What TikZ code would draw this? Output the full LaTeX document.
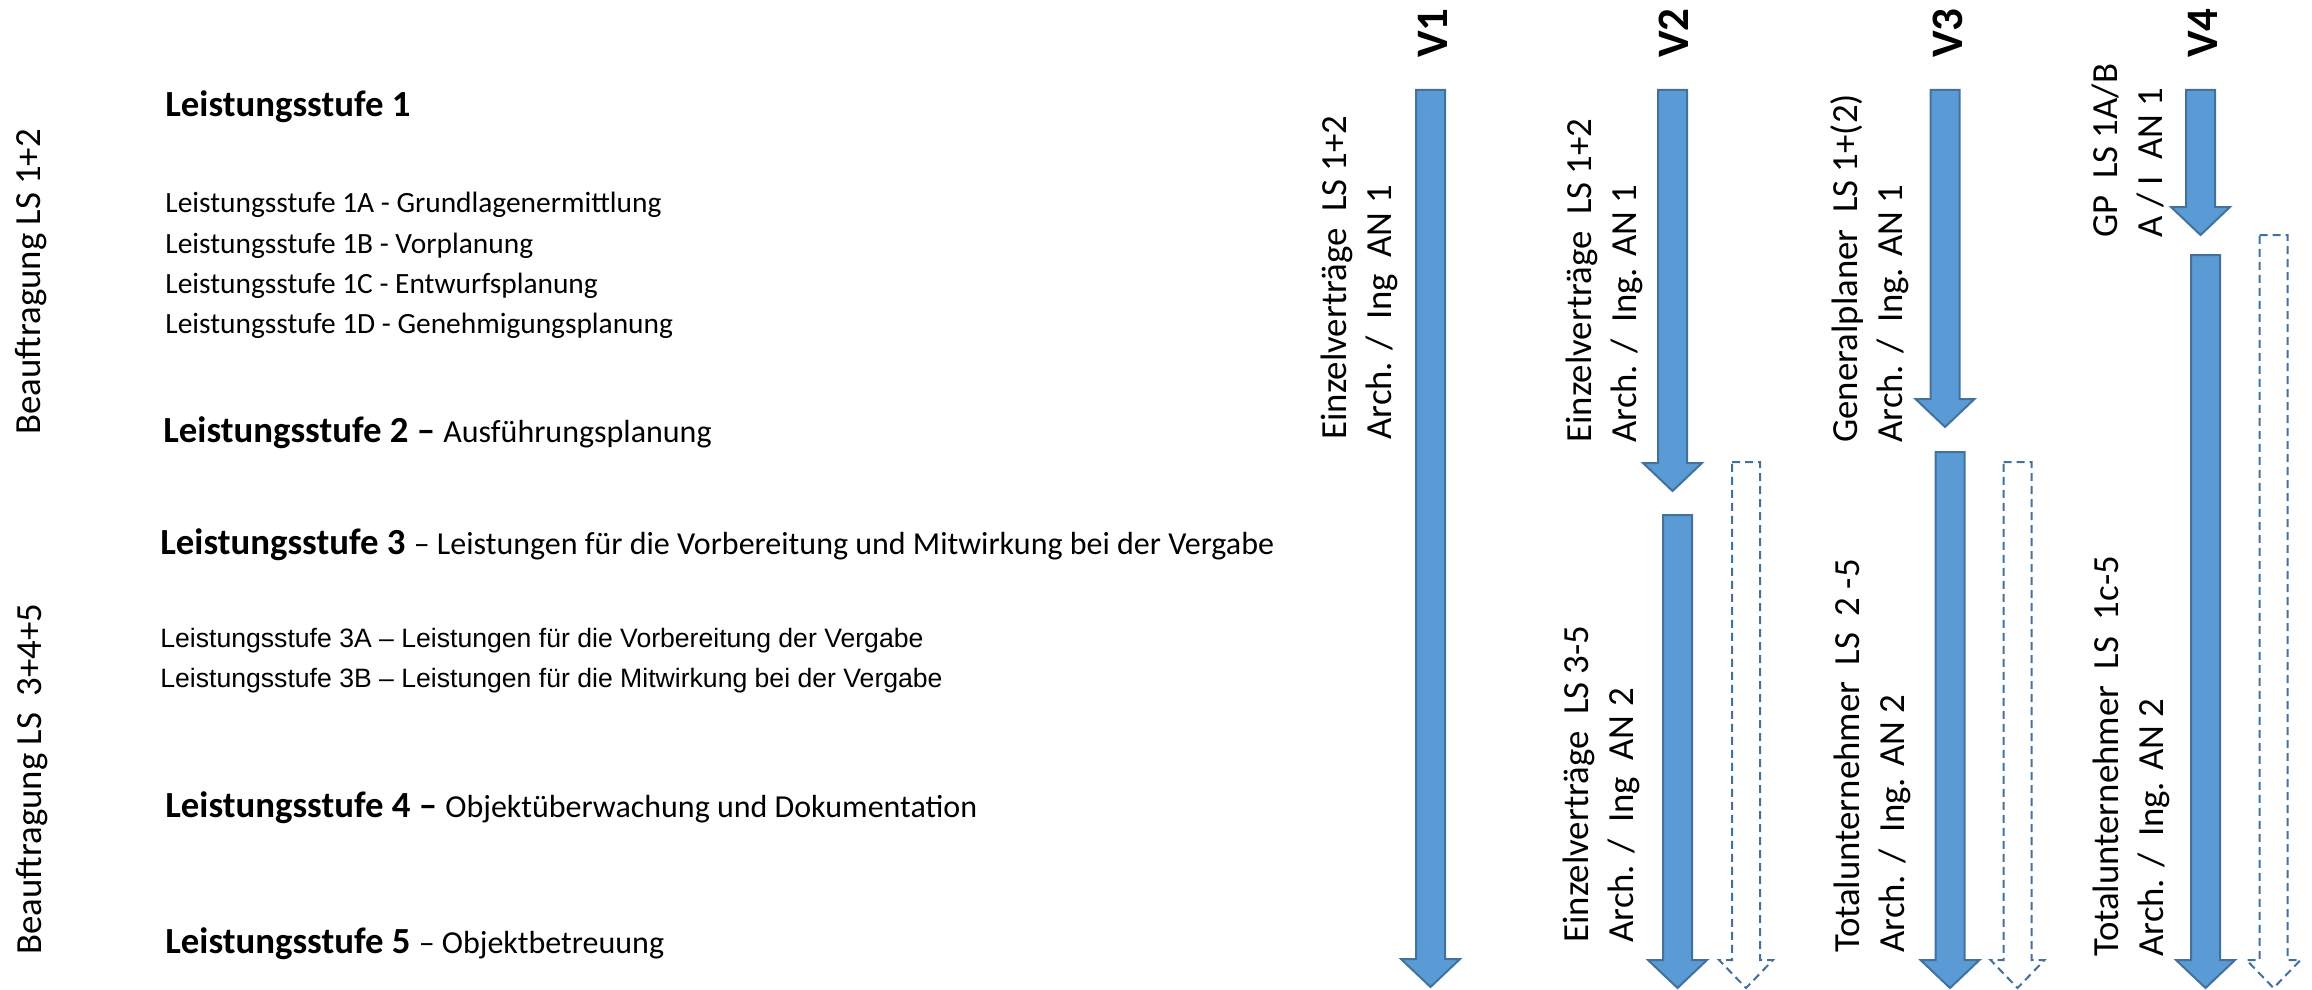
\documentclass[tikz,border=0pt]{standalone}
\usepackage{fontspec}
\setmainfont{Carlito}
\newfontfamily\arialfont{Liberation Sans}
\usetikzlibrary{positioning}
\definecolor{cFill}{HTML}{5B9BD5}
\definecolor{cEdge}{HTML}{41719C}
\tikzset{
  stage/.style={font=\fontsize{18.4}{22.5}\selectfont\bfseries, inner sep=0pt, anchor=base west},
  substage/.style={font=\fontsize{14.7}{17.5}\selectfont, inner sep=0pt, anchor=base west},
  substagear/.style={font=\arialfont\fontsize{13.3}{16}\selectfont, inner sep=0pt, anchor=base west},
  side/.style={font=\fontsize{18.4}{22.5}\selectfont, rotate=90, inner sep=0pt, anchor=base west},
  vlbl/.style={font=\fontsize{22.5}{27}\selectfont\bfseries, rotate=90, inner sep=0pt, anchor=base west},
  colt/.style={font=\fontsize{18.4}{22.5}\selectfont, rotate=90, align=left, inner sep=0pt, anchor=north west},
  full/.style={draw=cEdge, fill=cFill, line width=1pt},
  open/.style={draw=cEdge, line width=1pt, dash pattern=on 4pt off 2.5pt},
}
\newcommand{\desc}[1]{{\fontsize{16}{19}\selectfont\mdseries #1}}
% block arrow: style, centre x, top, tip, half shaft, half head
\newcommand{\blockarrow}[6]{%
  \draw[#1] (#2-#5,#3) -- (#2+#5,#3) -- (#2+#5,#4-28) -- (#2+#6,#4-28) -- (#2,#4)
    -- (#2-#6,#4-28) -- (#2-#5,#4-28) -- cycle;}

\begin{document}
\begin{tikzpicture}[x=0.5pt, y=-0.5pt]
  \useasboundingbox (0,0) rectangle (2312,990);

  % left column
  \node[side] (lbl12) at (40,435) {Beauftragung LS 1+2};
  \node[side] (lbl345) at (41,955) {Beauftragung LS~ 3+4+5};

  \node[stage] (ls1) at (165,117) {Leistungsstufe 1};
  \node[substage] (ls1a) at (165,213) {Leistungsstufe 1A - Grundlagenermittlung};
  \node[substage] (ls1b) at (165,253) {Leistungsstufe 1B - Vorplanung};
  \node[substage] (ls1c) at (165,293) {Leistungsstufe 1C - Entwurfsplanung};
  \node[substage] (ls1d) at (165,333) {Leistungsstufe 1D - Genehmigungsplanung};
  \node[stage] (ls2) at (163,442) {Leistungsstufe 2 – \desc{Ausführungsplanung}};
  \node[stage] (ls3) at (160,554) {Leistungsstufe 3 \desc{– Leistungen für die Vorbereitung und Mitwirkung bei der Vergabe}};
  \node[substagear] (ls3a) at (160,647) {Leistungsstufe 3A – Leistungen für die Vorbereitung der Vergabe};
  \node[substagear] (ls3b) at (160,687) {Leistungsstufe 3B – Leistungen für die Mitwirkung bei der Vergabe};
  \node[stage] (ls4) at (165,817) {Leistungsstufe 4 – \desc{Objektüberwachung und Dokumentation}};
  \node[stage] (ls5) at (165,953) {Leistungsstufe 5 \desc{– Objektbetreuung}};

  % variants
  \node[vlbl] (v1) at (1447,58) {V1};
  \node[vlbl] (v2) at (1688,58) {V2};
  \node[vlbl] (v3) at (1962,58) {V3};
  \node[vlbl] (v4) at (2217,58) {V4};

  \foreach \ax/\ay/\az in {1430.5/90/987, 1672.5/90/491, 1677.5/515/988,
                           1945/90/427, 1950/452/988, 2200.5/90/235, 2205.5/255/988}
    \blockarrow{full}{\ax}{\ay}{\az}{14.5}{29.5};
  \foreach \ax/\ay in {1746/462, 2017.5/462, 2273.5/235}
    \blockarrow{open}{\ax}{\ay}{988}{14}{27};

  \node[colt] (t1) at (1321,440) {Einzelverträge~ LS 1+2\\Arch. /~ Ing~ AN 1};
  \node[colt] (t2a) at (1566,443) {Einzelverträge~ LS 1+2\\Arch. /~ Ing. AN 1};
  \node[colt] (t2b) at (1563,943) {Einzelverträge~ LS 3-5\\Arch. /~ Ing~ AN 2};
  \node[colt] (t3a) at (1830,443) {Generalplaner~ LS 1+(2)\\Arch. /~ Ing. AN 1};
  \node[colt] (t3b) at (1834,953) {Totalunternehmer~ LS~ 2 -5\\Arch. /~ Ing. AN 2};
  \node[colt] (t4a) at (2092,238) {GP~ LS 1A/B\\A / I~ AN 1};
  \node[colt] (t4b) at (2093,957) {Totalunternehmer~ LS~ 1c-5\\Arch. /~ Ing. AN 2};
\end{tikzpicture}
\end{document}
